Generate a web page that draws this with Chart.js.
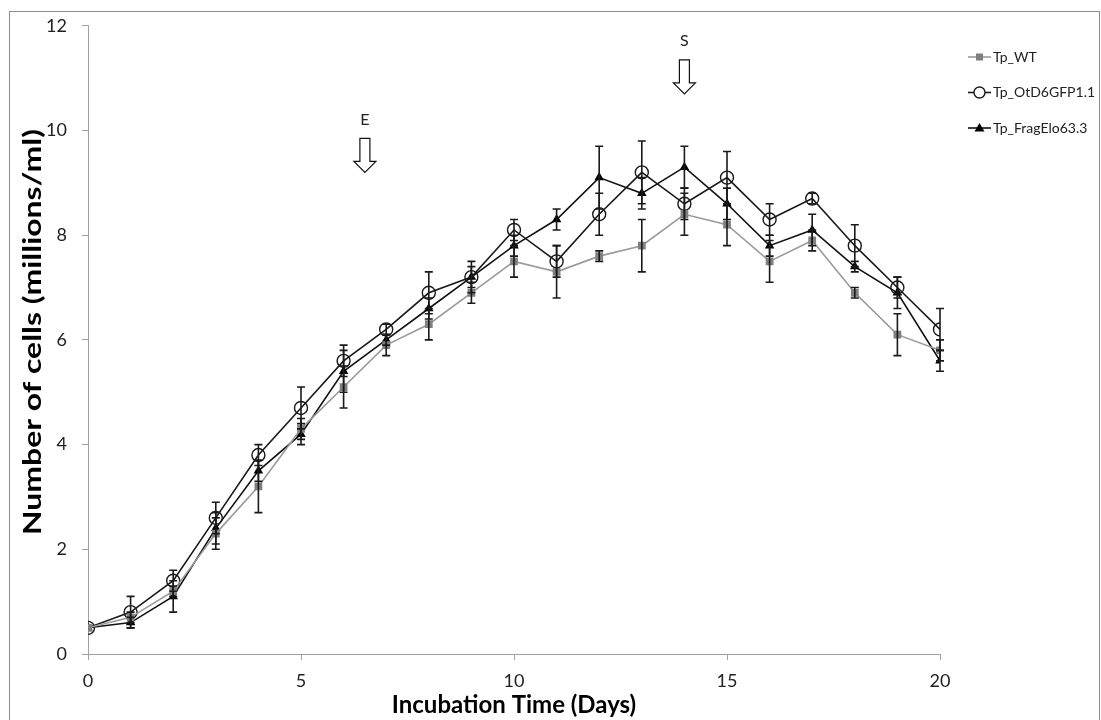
<!DOCTYPE html>
<html>
<head>
<meta charset="utf-8">
<script src="https://cdn.jsdelivr.net/npm/chart.js"></script>
<style>
  html, body { margin: 0; padding: 0; background: #fff; }
  #wrap { width: 1101px; height: 720px; }
</style>
</head>
<body>
<div id="wrap"><canvas id="myChart" width="1101" height="720"></canvas></div>
<script>
// days sampled
const days = [0,1,2,3,4,5,6,7,8,9,10,11,12,13,14,15,16,17,18,19,20];

// cell counts (millions/ml)
const wtValues   = [0.5,0.7,1.2,2.3,3.2,4.3,5.1,5.9,6.3,6.9,7.5,7.3,7.6,7.8,8.4,8.2,7.5,7.9,6.9,6.1,5.8];
const otdValues  = [0.5,0.8,1.4,2.6,3.8,4.7,5.6,6.2,6.9,7.2,8.1,7.5,8.4,9.2,8.6,9.1,8.3,8.7,7.8,7.0,6.2];
const fragValues = [0.5,0.6,1.1,2.4,3.5,4.2,5.4,6.0,6.6,7.2,7.8,8.3,9.1,8.8,9.3,8.6,7.8,8.1,7.4,6.9,5.6];

// error bar half-widths
const wtErrors   = [0.05,0.1,0.1,0.3,0.5,0.2,0.4,0.2,0.3,0.2,0.3,0.5,0.1,0.5,0.4,0.4,0.4,0.2,0.1,0.4,0.2];
const otdErrors  = [0.05,0.3,0.2,0.3,0.2,0.4,0.3,0.1,0.4,0.2,0.2,0.3,0.4,0.6,0.3,0.5,0.3,0.1,0.4,0.2,0.4];
const fragErrors = [0.05,0.1,0.3,0.3,0.2,0.2,0.4,0.1,0.2,0.3,0.2,0.2,0.6,0.3,0.4,0.3,0.2,0.3,0.1,0.3,0.2];

const seriesNames = ["Tp_WT", "Tp_OtD6GFP1.1", "Tp_FragElo63.3"];

const xTicks = [0,5,10,15,20];
const yTicks = [0,2,4,6,8,10,12];

const xTitle = "Incubation Time (Days)";
const yTitle = "Number of cells (millions/ml)";

// arrows marking E and S
const markLabels = ["E", "S"];
const markDays   = [6.5, 14];
const markTops   = [9.85, 11.35];

const FONT = "Lato, 'Open Sans', sans-serif";

const toPoints = (vals) => days.map((d, i) => ({ x: d, y: vals[i] }));

// error bars using the chart's scales
const errorBars = {
  id: "errorBars",
  afterDatasetsDraw(chart) {
    const ctx = chart.ctx;
    const xs = chart.scales.x, ys = chart.scales.y;
    ctx.save();
    ctx.strokeStyle = "#1a1a1a";
    ctx.lineWidth = 1.6;
    chart.data.datasets.forEach((ds) => {
      ds.errors.forEach((e, i) => {
        if (e < 0.08) return;
        const px = xs.getPixelForValue(days[i]);
        const top = ys.getPixelForValue(ds.data[i].y + e);
        const bot = ys.getPixelForValue(ds.data[i].y - e);
        ctx.beginPath();
        ctx.moveTo(px, top); ctx.lineTo(px, bot);
        ctx.moveTo(px - 4, top); ctx.lineTo(px + 4, top);
        ctx.moveTo(px - 4, bot); ctx.lineTo(px + 4, bot);
        ctx.stroke();
      });
    });
    ctx.restore();
  }
};

// hollow down arrows with labels
const arrows = {
  id: "arrows",
  afterDraw(chart) {
    const ctx = chart.ctx;
    const xs = chart.scales.x, ys = chart.scales.y;
    ctx.save();
    ctx.strokeStyle = "#111";
    ctx.lineWidth = 1.2;
    markLabels.forEach((lab, i) => {
      const cx = xs.getPixelForValue(markDays[i]);
      const top = ys.getPixelForValue(markTops[i]);
      ctx.fillStyle = "#fff";
      ctx.beginPath();
      ctx.moveTo(cx - 5, top);
      ctx.lineTo(cx + 5, top);
      ctx.lineTo(cx + 5, top + 23);
      ctx.lineTo(cx + 11, top + 23);
      ctx.lineTo(cx, top + 34);
      ctx.lineTo(cx - 11, top + 23);
      ctx.lineTo(cx - 5, top + 23);
      ctx.closePath();
      ctx.fill();
      ctx.stroke();
      ctx.fillStyle = "#222";
      ctx.font = "16px " + FONT;
      ctx.textAlign = "center";
      ctx.textBaseline = "middle";
      ctx.fillText(lab, cx, top - 19);
    });
    ctx.restore();
  }
};

// y title: the original is drawn stretched along its length
const yTitleDraw = {
  id: "yTitleDraw",
  afterDraw(chart) {
    const ctx = chart.ctx;
    ctx.save();
    ctx.translate(33, 332);
    ctx.rotate(-Math.PI / 2);
    ctx.scale(1.33, 1);
    ctx.fillStyle = "#000";
    ctx.font = "bold 24px " + FONT;
    ctx.textAlign = "center";
    ctx.textBaseline = "middle";
    ctx.fillText(yTitle, 0, 0);
    ctx.restore();
  }
};

// legend on the right, line + marker like the original
const sideLegend = {
  id: "sideLegend",
  afterDraw(chart) {
    const ctx = chart.ctx;
    ctx.save();
    chart.data.datasets.forEach((ds, i) => {
      const y = 57 + i * 35.5;
      ctx.strokeStyle = ds.borderColor;
      ctx.lineWidth = 1.6;
      ctx.beginPath();
      ctx.moveTo(968, y); ctx.lineTo(991, y);
      ctx.stroke();
      ctx.fillStyle = ds.pointBackgroundColor;
      ctx.strokeStyle = ds.pointBorderColor;
      ctx.lineWidth = 1.4;
      ctx.beginPath();
      if (ds.pointStyle === "rect") {
        ctx.rect(976, y - 3.5, 7, 7); ctx.fill();
      } else if (ds.pointStyle === "circle") {
        ctx.arc(979.5, y, 5.5, 0, Math.PI * 2); ctx.fillStyle = "#fff"; ctx.fill(); ctx.stroke();
      } else {
        ctx.moveTo(979.5, y - 5); ctx.lineTo(984.5, y + 3.5); ctx.lineTo(974.5, y + 3.5); ctx.closePath(); ctx.fill();
      }
      ctx.fillStyle = "#222";
      ctx.font = "14px " + FONT;
      ctx.textAlign = "left";
      ctx.textBaseline = "middle";
      ctx.fillText(seriesNames[i], 993, y);
    });
    ctx.restore();
  }
};

// outer frame
const frame = {
  id: "frame",
  beforeDraw(chart) {
    const ctx = chart.ctx;
    ctx.save();
    ctx.fillStyle = "#fff";
    ctx.fillRect(0, 0, chart.width, chart.height);
    ctx.strokeStyle = "#8c8c8c";
    ctx.lineWidth = 1;
    ctx.strokeRect(9.5, 11.5, 1090, 720);
    ctx.restore();
  }
};

new Chart("myChart", {
  type: "line",
  data: {
    datasets: [{
      label: seriesNames[0],
      data: toPoints(wtValues),
      errors: wtErrors,
      borderColor: "#9a9a9a",
      borderWidth: 1.6,
      pointStyle: "rect",
      pointRadius: 5.5,
      pointBackgroundColor: "#808080",
      pointBorderColor: "#808080",
      pointBorderWidth: 0,
      fill: false
    }, {
      label: seriesNames[1],
      data: toPoints(otdValues),
      errors: otdErrors,
      borderColor: "#1a1a1a",
      borderWidth: 1.6,
      pointStyle: "circle",
      pointRadius: 6.5,
      pointBackgroundColor: "rgba(255,255,255,0)",
      pointBorderColor: "#1a1a1a",
      pointBorderWidth: 1.4,
      fill: false
    }, {
      label: seriesNames[2],
      data: toPoints(fragValues),
      errors: fragErrors,
      borderColor: "#111",
      borderWidth: 1.6,
      pointStyle: "triangle",
      pointRadius: 5.5,
      pointBackgroundColor: "#000",
      pointBorderColor: "#000",
      pointBorderWidth: 0,
      fill: false
    }]
  },
  options: {
    responsive: false,
    animation: false,
    layout: { padding: { left: 0, right: 161, top: 17, bottom: 0 } },
    elements: { line: { tension: 0 } },
    plugins: {
      legend: { display: false },
      tooltip: { enabled: false }
    },
    scales: {
      x: {
        type: "linear",
        min: 0, max: 20,
        afterFit: (s) => { s.height = 66; },
        afterBuildTicks: (s) => { s.ticks = xTicks.map(v => ({ value: v })); },
        grid: { drawOnChartArea: false, drawTicks: true, tickLength: 6, color: "#a0a0a0" },
        border: { color: "#a0a0a0", width: 1 },
        ticks: { color: "#222", font: { size: 18, family: FONT }, padding: 10, maxRotation: 0 },
        title: {
          display: true, text: xTitle, color: "#000",
          font: { size: 24, weight: "bold", family: FONT }, padding: { top: 0, bottom: 0 }
        }
      },
      y: {
        min: 0, max: 12,
        afterFit: (s) => { s.width = 88; },
        afterBuildTicks: (s) => { s.ticks = yTicks.map(v => ({ value: v })); },
        grid: { drawOnChartArea: false, drawTicks: true, tickLength: 6, color: "#a0a0a0" },
        border: { color: "#a0a0a0", width: 1 },
        ticks: { color: "#222", font: { size: 18, family: FONT }, padding: 15 },
        title: { display: false }
      }
    }
  },
  plugins: [frame, errorBars, arrows, yTitleDraw, sideLegend]
});
</script>
</body>
</html>
